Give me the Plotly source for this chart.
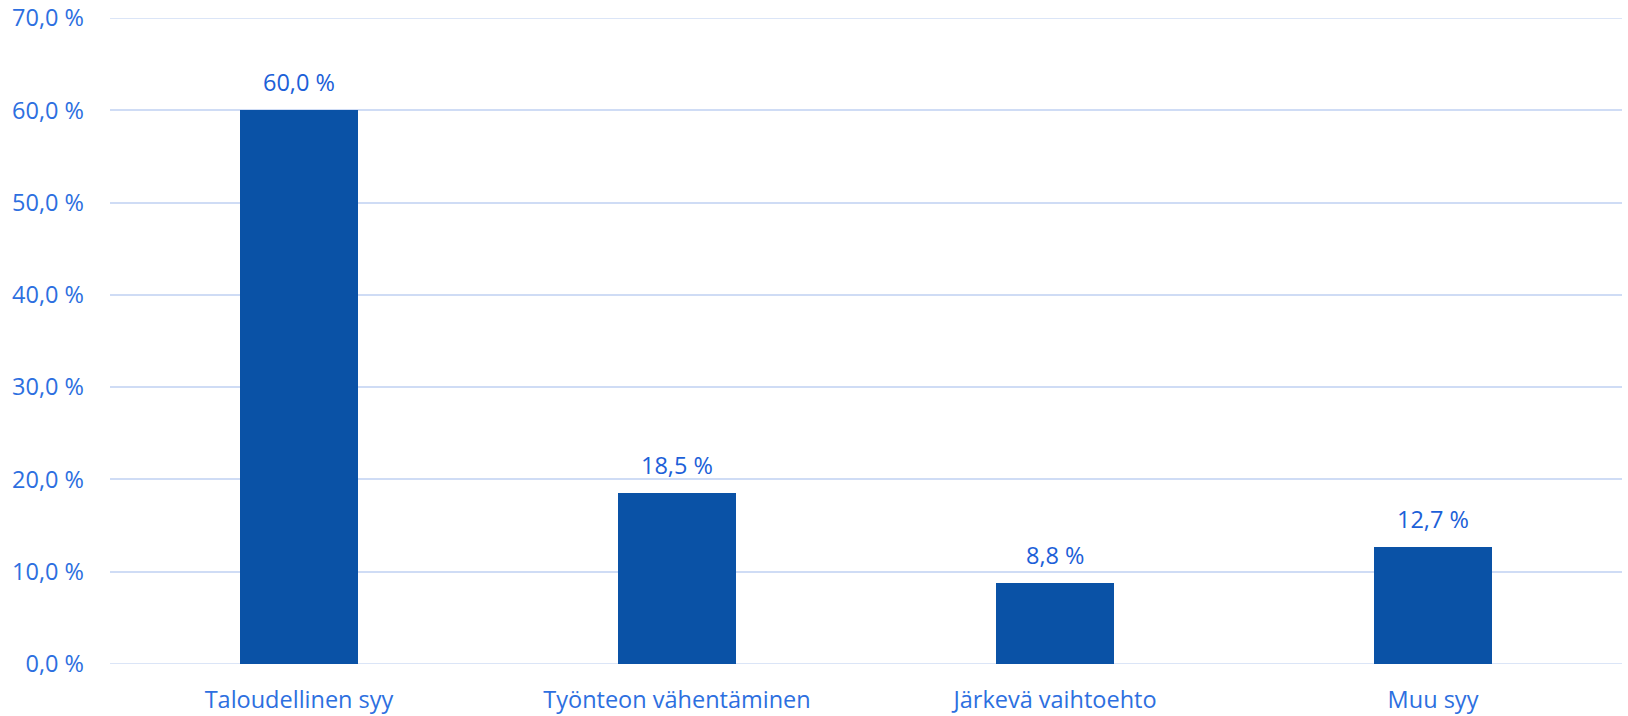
import plotly.graph_objects as go

categories = ["Taloudellinen syy", "Työnteon vähentäminen", "Järkevä vaihtoehto", "Muu syy"]
values = [60.0, 18.5, 8.8, 12.7]
tick_vals = [0, 10, 20, 30, 40, 50, 60, 70]
tick_text = ["0,0 %", "10,0 %", "20,0 %", "30,0 %", "40,0 %", "50,0 %", "60,0 %", "70,0 %"]

labels = [f"{v:.1f}".replace(".", ",") + " %" for v in values]
text_color = "#2d6fe0"
grid_color = "#cfdcf5"
fs = 23.5

fig = go.Figure(go.Bar(
    x=list(range(len(categories))),
    y=values,
    width=0.313,
    marker=dict(color="#0a52a6", line=dict(width=0)),
    hoverinfo="skip",
))

for i, (v, t) in enumerate(zip(values, labels)):
    fig.add_annotation(x=i, y=v, text=t, showarrow=False, xref="x", yref="y",
                       yanchor="bottom", yshift=10,
                       font=dict(color="#1c60d8", size=fs, family="Open Sans"))

fig.update_layout(
    width=1628, height=716,
    margin=dict(l=110, r=6, t=18, b=52, autoexpand=False),
    paper_bgcolor="white", plot_bgcolor="white",
    font=dict(family="Open Sans", size=fs, color=text_color),
    showlegend=False,
    bargap=0,
)
fig.update_xaxes(
    tickmode="array", tickvals=list(range(len(categories))), ticktext=categories,
    range=[-0.5, 3.5], showgrid=False, zeroline=False, showline=False,
    ticks="", ticklabelstandoff=19, automargin=False,
    tickfont=dict(size=fs, color=text_color),
)
fig.update_yaxes(
    tickmode="array", tickvals=tick_vals, ticktext=tick_text, range=[0, 70],
    showgrid=True, gridcolor=grid_color, gridwidth=1.5, zeroline=False,
    showline=False, ticks="", ticklabelstandoff=25, automargin=False,
    ticklabeloverflow="allow",
    tickfont=dict(size=fs, color=text_color),
)
for yv in (0, 70):
    fig.add_shape(type="line", xref="paper", yref="y", x0=0, x1=1, y0=yv, y1=yv,
                  line=dict(color=grid_color, width=1.5), layer="below")

fig.write_html("out.html", config={"displayModeBar": False},
               post_script="document.body.style.margin='0';")
